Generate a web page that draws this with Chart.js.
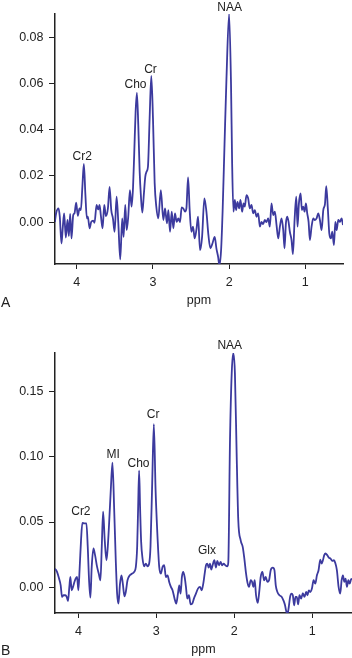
<!DOCTYPE html>
<html>
<head>
<meta charset="utf-8">
<script src="https://cdn.jsdelivr.net/npm/chart.js@4"></script>
<style>
  body { margin: 0; background: #fff; width: 352px; height: 658px; position: relative; overflow: hidden; font-family: 'Liberation Sans', Arial, sans-serif; }
  .panel { position: absolute; left: 0; width: 352px; }
  #boxA { top: 0; height: 320px; }
  #boxB { top: 320px; height: 338px; }
  .letter { position: absolute; left: 1px; font-size: 14px; line-height: 16px; color: #222; }
</style>
</head>
<body>
<div class="panel" id="boxA"><canvas id="specA"></canvas></div>
<div class="panel" id="boxB"><canvas id="specB"></canvas></div>
<div class="letter" style="top:294px">A</div>
<div class="letter" style="top:642px">B</div>
<script>
// spectrum A
const ppmA = [4.289, 4.272, 4.241, 4.224, 4.202, 4.184, 4.167, 4.145, 4.123, 4.105, 4.088, 4.070, 4.048, 4.031, 4.009, 3.987, 3.965, 3.947, 3.928, 3.908, 3.888, 3.868, 3.855, 3.833, 3.811, 3.785, 3.768, 3.741, 3.719, 3.702, 3.684, 3.662, 3.640, 3.618, 3.592, 3.570, 3.548, 3.526, 3.504, 3.478, 3.456, 3.430, 3.404, 3.386, 3.364, 3.346, 3.325, 3.303, 3.281, 3.262, 3.246, 3.228, 3.211, 3.193, 3.175, 3.158, 3.140, 3.120, 3.101, 3.083, 3.066, 3.044, 3.022, 3.000, 2.978, 2.956, 2.930, 2.897, 2.864, 2.842, 2.816, 2.798, 2.776, 2.754, 2.732, 2.711, 2.689, 2.667, 2.645, 2.623, 2.601, 2.579, 2.561, 2.539, 2.518, 2.496, 2.474, 2.452, 2.430, 2.408, 2.382, 2.355, 2.325, 2.298, 2.272, 2.246, 2.219, 2.189, 2.167, 2.145, 2.127, 2.105, 2.085, 2.060, 2.035, 2.000, 1.975, 1.960, 1.943, 1.925, 1.908, 1.890, 1.868, 1.851, 1.829, 1.811, 1.794, 1.772, 1.750, 1.728, 1.706, 1.684, 1.662, 1.640, 1.618, 1.596, 1.575, 1.553, 1.531, 1.509, 1.487, 1.465, 1.443, 1.421, 1.399, 1.377, 1.355, 1.333, 1.311, 1.289, 1.272, 1.254, 1.237, 1.219, 1.202, 1.180, 1.162, 1.140, 1.118, 1.101, 1.083, 1.061, 1.044, 1.026, 1.009, 0.991, 0.974, 0.956, 0.939, 0.917, 0.895, 0.873, 0.851, 0.829, 0.807, 0.785, 0.763, 0.741, 0.724, 0.702, 0.684, 0.662, 0.645, 0.623, 0.605, 0.588, 0.566, 0.544, 0.522, 0.504];
const valA = [0.0000, 0.0038, 0.0059, 0.0023, -0.0093, -0.0020, 0.0038, -0.0067, 0.0009, -0.0061, 0.0035, -0.0071, 0.0030, 0.0038, 0.0084, 0.0027, 0.0059, 0.0052, 0.0150, 0.0252, 0.0120, 0.0016, 0.0023, -0.0027, 0.0001, 0.0006, -0.0003, 0.0074, 0.0055, 0.0074, 0.0027, -0.0027, 0.0074, 0.0026, 0.0059, 0.0153, 0.0052, 0.0016, -0.0042, 0.0110, 0.0001, -0.0162, 0.0016, -0.0064, 0.0074, -0.0035, 0.0023, 0.0139, 0.0067, 0.0150, 0.0300, 0.0480, 0.0561, 0.0420, 0.0220, 0.0110, 0.0041, 0.0120, 0.0197, 0.0220, 0.0240, 0.0450, 0.0634, 0.0450, 0.0170, 0.0066, 0.0016, 0.0139, 0.0009, 0.0059, -0.0006, 0.0052, -0.0042, 0.0045, -0.0027, 0.0038, 0.0001, 0.0016, 0.0000, 0.0064, 0.0059, 0.0045, 0.0059, 0.0194, 0.0052, -0.0042, -0.0020, -0.0071, -0.0035, 0.0023, -0.0122, -0.0064, 0.0103, 0.0045, -0.0056, -0.0114, -0.0093, -0.0064, -0.0114, -0.0150, -0.0187, -0.0120, 0.0050, 0.0340, 0.0620, 0.0903, 0.0600, 0.0250, 0.0045, 0.0096, 0.0052, 0.0088, 0.0059, 0.0096, 0.0045, 0.0081, 0.0067, 0.0117, 0.0103, 0.0059, 0.0074, 0.0038, 0.0052, 0.0023, 0.0038, -0.0020, 0.0001, -0.0009, 0.0009, 0.0000, 0.0016, -0.0020, 0.0081, 0.0030, 0.0045, -0.0013, -0.0071, -0.0020, 0.0016, -0.0035, -0.0114, -0.0006, 0.0023, 0.0001, -0.0042, -0.0078, -0.0139, 0.0009, 0.0110, -0.0020, 0.0081, 0.0124, 0.0052, 0.0067, 0.0045, 0.0081, 0.0038, 0.0001, -0.0078, -0.0020, 0.0016, 0.0009, 0.0016, 0.0038, 0.0009, -0.0035, 0.0052, 0.0078, 0.0156, 0.0052, -0.0049, -0.0071, -0.0042, -0.0100, 0.0001, -0.0035, 0.0009, 0.0001, 0.0016, -0.0013];

// spectrum B
const ppmB = [4.300, 4.274, 4.248, 4.227, 4.210, 4.189, 4.167, 4.150, 4.133, 4.116, 4.103, 4.086, 4.069, 4.051, 4.034, 4.017, 4.000, 3.983, 3.966, 3.949, 3.923, 3.897, 3.880, 3.863, 3.846, 3.829, 3.807, 3.786, 3.760, 3.739, 3.717, 3.700, 3.683, 3.662, 3.640, 3.623, 3.606, 3.584, 3.563, 3.541, 3.520, 3.503, 3.486, 3.466, 3.447, 3.430, 3.409, 3.392, 3.370, 3.340, 3.310, 3.284, 3.263, 3.246, 3.234, 3.221, 3.208, 3.195, 3.177, 3.156, 3.135, 3.113, 3.092, 3.075, 3.053, 3.032, 3.010, 2.989, 2.963, 2.942, 2.920, 2.899, 2.878, 2.856, 2.835, 2.813, 2.792, 2.766, 2.745, 2.723, 2.706, 2.689, 2.672, 2.655, 2.637, 2.620, 2.603, 2.582, 2.560, 2.539, 2.518, 2.492, 2.466, 2.440, 2.419, 2.398, 2.380, 2.363, 2.346, 2.329, 2.312, 2.295, 2.278, 2.256, 2.235, 2.218, 2.196, 2.175, 2.158, 2.136, 2.115, 2.089, 2.077, 2.055, 2.033, 2.013, 1.992, 1.969, 1.949, 1.918, 1.892, 1.871, 1.849, 1.828, 1.811, 1.789, 1.772, 1.755, 1.738, 1.721, 1.699, 1.678, 1.661, 1.639, 1.618, 1.597, 1.575, 1.554, 1.533, 1.506, 1.485, 1.468, 1.447, 1.421, 1.391, 1.370, 1.349, 1.336, 1.318, 1.301, 1.284, 1.267, 1.249, 1.232, 1.215, 1.198, 1.181, 1.164, 1.142, 1.121, 1.100, 1.078, 1.061, 1.044, 1.026, 1.004, 0.983, 0.961, 0.940, 0.919, 0.897, 0.880, 0.863, 0.846, 0.829, 0.808, 0.787, 0.765, 0.744, 0.722, 0.705, 0.684, 0.662, 0.641, 0.623, 0.606, 0.589, 0.572, 0.555, 0.537, 0.520, 0.503, 0.490];
const valB = [0.0143, 0.0118, 0.0067, 0.0015, -0.0074, -0.0061, -0.0061, -0.0074, -0.0105, 0.0003, 0.0079, -0.0023, 0.0003, 0.0041, 0.0067, 0.0079, -0.0023, 0.0156, 0.0361, 0.0494, 0.0489, 0.0489, 0.0310, 0.0054, -0.0079, 0.0156, 0.0297, 0.0246, 0.0156, 0.0105, 0.0054, 0.0310, 0.0579, 0.0361, 0.0207, 0.0310, 0.0489, 0.0750, 0.0955, 0.0600, 0.0200, -0.0050, -0.0125, 0.0028, 0.0092, 0.0028, -0.0069, -0.0036, 0.0054, 0.0092, 0.0105, 0.0118, 0.0156, 0.0310, 0.0600, 0.0893, 0.0600, 0.0350, 0.0220, 0.0161, 0.0182, 0.0161, 0.0182, 0.0310, 0.0800, 0.1249, 0.0750, 0.0438, 0.0156, 0.0105, 0.0156, 0.0169, 0.0079, 0.0092, 0.0041, 0.0003, -0.0023, -0.0087, -0.0125, -0.0049, 0.0015, -0.0049, 0.0079, 0.0118, 0.0079, 0.0003, -0.0087, -0.0061, -0.0131, -0.0125, -0.0087, -0.0049, -0.0010, 0.0003, -0.0023, 0.0028, 0.0105, 0.0169, 0.0182, 0.0151, 0.0182, 0.0136, 0.0169, 0.0207, 0.0151, 0.0202, 0.0169, 0.0195, 0.0169, 0.0182, 0.0169, 0.0161, 0.0190, 0.1130, 0.1640, 0.1795, 0.1640, 0.1000, 0.0515, 0.0360, 0.0310, 0.0220, 0.0105, 0.0028, 0.0003, 0.0054, 0.0041, 0.0003, 0.0054, -0.0061, -0.0120, -0.0023, 0.0079, 0.0118, 0.0054, 0.0079, 0.0041, 0.0054, 0.0131, 0.0151, 0.0131, 0.0015, -0.0036, -0.0061, -0.0074, -0.0100, -0.0138, -0.0177, -0.0207, -0.0151, -0.0074, -0.0049, -0.0061, -0.0138, -0.0074, -0.0074, -0.0131, -0.0061, -0.0087, -0.0044, -0.0074, -0.0036, -0.0061, -0.0023, -0.0036, -0.0010, 0.0054, 0.0028, 0.0092, 0.0131, 0.0212, 0.0182, 0.0207, 0.0246, 0.0259, 0.0246, 0.0228, 0.0220, 0.0202, 0.0207, 0.0187, 0.0131, 0.0003, -0.0049, 0.0054, 0.0092, 0.0041, 0.0067, 0.0003, 0.0054, 0.0028, 0.0059, 0.0067];

// ticks
const ppmTicks = [1, 2, 3, 4];
const yTicksA = [0, 0.02, 0.04, 0.06, 0.08];
const yTicksB = [0, 0.05, 0.10, 0.15];

// peak names, anchored at (ppm, value) of the text baseline
const peakNamesA = ['Cr2', 'Cho', 'Cr', 'NAA'];
const peakPpmA = [3.929, 3.230, 3.033, 1.993];
const peakValA = [0.0269, 0.0582, 0.0645, 0.0916];
const peakNamesB = ['Cr2', 'MI', 'Cho', 'Cr', 'Glx', 'NAA'];
const peakPpmB = [3.968, 3.555, 3.229, 3.041, 2.351, 2.058];
const peakValB = [0.0553, 0.0988, 0.0922, 0.1300, 0.0253, 0.1825];

const FONT = "'Liberation Sans', Arial, sans-serif";
const INK = '#222';
const LINE = 'rgb(60, 58, 158)';

const peakLabels = {
  id: 'peakLabels',
  afterDatasetsDraw(chart, args, opts) {
    const { ctx, scales: { x, y } } = chart;
    ctx.save();
    ctx.font = '12px ' + FONT;
    ctx.fillStyle = INK;
    ctx.textAlign = 'center';
    ctx.textBaseline = 'alphabetic';
    opts.names.forEach((n, i) => {
      ctx.fillText(n, x.getPixelForValue(opts.ppm[i]), y.getPixelForValue(opts.val[i]));
    });
    ctx.restore();
  }
};

function spectrum(id, ppm, vals, cfg) {
  return new Chart(document.getElementById(id), {
    type: 'line',
    data: {
      datasets: [{
        data: ppm.map((p, i) => ({ x: p, y: vals[i] })),
        borderColor: LINE,
        borderWidth: 1.8,
        pointRadius: 0,
        fill: false,
        cubicInterpolationMode: 'monotone'
      }]
    },
    options: {
      responsive: true,
      maintainAspectRatio: false,
      animation: false,
      layout: { padding: cfg.padding },
      plugins: {
        legend: { display: false },
        tooltip: { enabled: false },
        peakLabels: { names: cfg.names, ppm: cfg.peakPpm, val: cfg.peakVal }
      },
      scales: {
        x: {
          type: 'linear',
          reverse: true,
          min: cfg.xMin,
          max: cfg.xMax,
          afterBuildTicks: s => { s.ticks = ppmTicks.map(v => ({ value: v })); },
          afterFit: s => { s.height = cfg.xAxisH; },
          ticks: { color: INK, font: { family: FONT, size: 12.5 }, padding: 6, maxRotation: 0, callback: v => String(v) },
          grid: { drawOnChartArea: false, drawTicks: true, tickLength: 5, color: INK, lineWidth: 1 },
          border: { display: true, color: INK, width: 1.5 },
          title: { display: true, text: 'ppm', color: INK, font: { family: FONT, size: 12.5 }, padding: { top: 0, bottom: cfg.titlePad } }
        },
        y: {
          min: cfg.yMin,
          max: cfg.yMax,
          afterBuildTicks: s => { s.ticks = cfg.yTicks.map(v => ({ value: v })); },
          afterFit: s => { s.width = 55; },
          ticks: { color: INK, font: { family: FONT, size: 12.5 }, padding: 5.5, callback: v => v.toFixed(2) },
          grid: { drawOnChartArea: false, drawTicks: true, tickLength: 6, color: INK, lineWidth: 1 },
          border: { display: true, color: INK, width: 1.5 }
        }
      }
    },
    plugins: [peakLabels]
  });
}

spectrum('specA', ppmA, valA, {
  padding: { top: 14, right: 9, left: 0, bottom: 0 },
  xMin: 0.504, xMax: 4.287, yMin: -0.0182, yMax: 0.0903,
  yTicks: yTicksA, xAxisH: 56, titlePad: 11.5,
  names: peakNamesA, peakPpm: peakPpmA, peakVal: peakValA
});

spectrum('specB', ppmB, valB, {
  padding: { top: 33, right: 0, left: 0, bottom: 0 },
  xMin: 0.49, xMax: 4.30, yMin: -0.0197, yMax: 0.1795,
  yTicks: yTicksB, xAxisH: 45, titlePad: 1.2,
  names: peakNamesB, peakPpm: peakPpmB, peakVal: peakValB
});
</script>
</body>
</html>
